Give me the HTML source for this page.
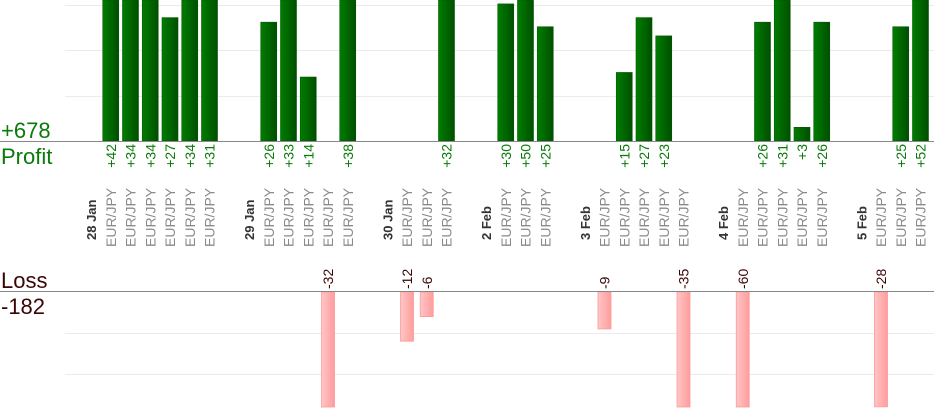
<!DOCTYPE html>
<html><head><meta charset="utf-8"><style>
html,body{margin:0;padding:0;background:#fff;width:934px;height:420px;overflow:hidden}
svg{display:block;font-family:"Liberation Sans",sans-serif}
</style></head><body>
<svg width="934" height="420" viewBox="0 0 934 420">
<defs>
<linearGradient id="g" x1="0" x2="1" y1="0" y2="0"><stop offset="0" stop-color="#007d00"/><stop offset="1" stop-color="#004f00"/></linearGradient>
<linearGradient id="r" x1="0" x2="1" y1="0" y2="0"><stop offset="0" stop-color="#ffc6c6"/><stop offset="1" stop-color="#ff9c9c"/></linearGradient>
</defs>
<g stroke="#ebebeb" stroke-width="1">
<line x1="65" x2="934" y1="5.5" y2="5.5"/><line x1="65" x2="934" y1="50.5" y2="50.5"/><line x1="65" x2="934" y1="96.5" y2="96.5"/>
<line x1="65" x2="934" y1="333.5" y2="333.5"/><line x1="65" x2="934" y1="374.5" y2="374.5"/>
</g>
<g id="bars"></g>
<line x1="0" x2="934" y1="141.5" y2="141.5" stroke="#888"/>
<line x1="0" x2="934" y1="291.5" y2="291.5" stroke="#888"/>
<g font-size="22">
<text x="1" y="138" fill="#0a7a0a">+678</text>
<text x="1" y="164" fill="#0a7a0a">Profit</text>
<text x="1" y="288" fill="#3a0505">Loss</text>
<text x="1" y="314" fill="#3a0505">-182</text>
</g>
<g id="labels"></g>
<script>
var P=19.75,X0=91;
var dates={0:"28 Jan",8:"29 Jan",15:"30 Jan",20:"2 Feb",25:"3 Feb",32:"4 Feb",39:"5 Feb"};
var v={1:42,2:34,3:34,4:27,5:34,6:31,9:26,10:33,11:14,12:-32,13:38,16:-12,17:-6,18:32,21:30,22:50,23:25,26:-9,27:15,28:27,29:23,30:-35,33:-60,34:26,35:31,36:3,37:26,40:-28,41:25,42:52};
var ns="http://www.w3.org/2000/svg",b=document.getElementById("bars"),l=document.getElementById("labels");
function el(t,a,p,txt){var e=document.createElementNS(ns,t);for(var k in a)e.setAttribute(k,a[k]);if(txt)e.textContent=txt;p.appendChild(e);}
for(var k=0;k<=42;k++){var x=X0+P*k;
 if(dates[k]!==undefined){el("text",{x:0,y:0,transform:"translate("+(x+5)+",240) rotate(-90)","font-size":"13","font-weight":"bold",fill:"#333"},l,dates[k]);continue;}
 if(v[k]===undefined)continue;
 el("text",{x:0,y:0,transform:"translate("+(x+5)+",247) rotate(-90)","font-size":"14",fill:"#8a8a8a"},l,"EUR/JPY");
 var val=v[k];
 if(val>0){var h=Math.min(141,val*4.57);el("rect",{x:x-8,y:141-h,width:16,height:h,fill:"url(#g)",stroke:"#005a00","stroke-width":"0.6"},b);
  el("text",{x:0,y:0,transform:"translate("+(x+5)+",144) rotate(-90)","font-size":"14",fill:"#0a7a0a","text-anchor":"end"},l,"+"+val);}
 else{var h2=Math.min(115,-val*4.1);el("rect",{x:x-6.5,y:292,width:13,height:h2,fill:"url(#r)",stroke:"#ff9a9a","stroke-width":"0.8"},b);
  el("text",{x:0,y:0,transform:"translate("+(x+5)+",289) rotate(-90)","font-size":"14",fill:"#3a0505"},l,""+val);}
}
</script>
</svg>
</body></html>
